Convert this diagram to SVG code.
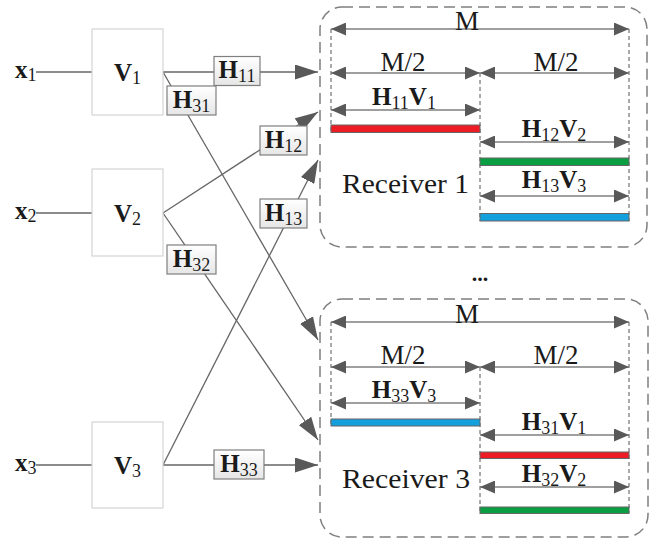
<svg xmlns="http://www.w3.org/2000/svg" width="665" height="542" viewBox="0 0 665 542" font-family="'Liberation Serif', 'Times New Roman', serif">
<style>
text{font-family:'Liberation Serif','Times New Roman',serif;fill:#1a1a1a}
.b{font-weight:bold;font-size:25px}
.s{font-size:18px;font-weight:normal}
.n{font-size:27px}
.rl{font-size:27px}
.vb{fill:#fff;stroke:#d4d4d4;stroke-width:1.2}
.hb{fill:url(#hg);stroke:#7f7f7f;stroke-width:1.2}
.c{stroke:#666;stroke-width:1.3;fill:none}
.ca{stroke:#666;stroke-width:1.3;fill:none;marker-end:url(#ah)}
.rx{fill:none;stroke:#7f7f7f;stroke-width:1.5;stroke-dasharray:11 6}
.dl{stroke:#555;stroke-width:1;stroke-dasharray:4 3}
.dim{stroke:#7f7f7f;stroke-width:1.5;marker-start:url(#dh);marker-end:url(#dh)}
.bar{stroke:#666;stroke-width:1}
</style>
<defs>
<linearGradient id="hg" x1="0" y1="0" x2="0" y2="1"><stop offset="0" stop-color="#ffffff"/><stop offset="1" stop-color="#e6e6e6"/></linearGradient>
<marker id="ah" markerUnits="userSpaceOnUse" markerWidth="23" markerHeight="15" refX="23" refY="7.5" orient="auto"><path d="M0,0 L23,7.5 L0,15 z" fill="#595959"/></marker>
<marker id="dh" markerUnits="userSpaceOnUse" markerWidth="15" markerHeight="13" refX="15" refY="6.5" orient="auto-start-reverse"><path d="M0,0 L15,6.5 L0,13 z" fill="#595959"/></marker>
</defs>

<g id="connectors">
<line class="c" x1="36" y1="72" x2="92" y2="72"/>
<line class="c" x1="36" y1="213" x2="92" y2="213"/>
<line class="c" x1="36" y1="465" x2="92" y2="465"/>
<line class="ca" x1="163" y1="72" x2="318" y2="72"/>
<line class="ca" x1="163" y1="72" x2="318" y2="340"/>
<line class="ca" x1="163" y1="213" x2="318" y2="112"/>
<line class="ca" x1="163" y1="213" x2="318" y2="440"/>
<line class="ca" x1="163" y1="465" x2="318" y2="160"/>
<line class="ca" x1="163" y1="465" x2="318" y2="465"/>
</g>

<g id="x1"><text x="15" y="78"><tspan class="b">x</tspan><tspan class="s" dy="3">1</tspan></text></g>
<g id="x2"><text x="15" y="219"><tspan class="b">x</tspan><tspan class="s" dy="3">2</tspan></text></g>
<g id="x3"><text x="15" y="471"><tspan class="b">x</tspan><tspan class="s" dy="3">3</tspan></text></g>

<g id="V1"><rect class="vb" x="92" y="29" width="71" height="86"/><text x="127.5" y="81" text-anchor="middle"><tspan class="b">V</tspan><tspan class="s" dy="3">1</tspan></text></g>
<g id="V2"><rect class="vb" x="92" y="169" width="71" height="87"/><text x="127.5" y="222" text-anchor="middle"><tspan class="b">V</tspan><tspan class="s" dy="3">2</tspan></text></g>
<g id="V3"><rect class="vb" x="92" y="422" width="71" height="86"/><text x="127.5" y="474" text-anchor="middle"><tspan class="b">V</tspan><tspan class="s" dy="3">3</tspan></text></g>

<g id="H11"><rect class="hb" x="214" y="56.5" width="46" height="29"/><text x="237" y="78" text-anchor="middle"><tspan class="b">H</tspan><tspan class="s" dy="4">11</tspan></text></g>
<g id="H31"><rect class="hb" x="167" y="86" width="49" height="29"/><text x="191.5" y="107.5" text-anchor="middle"><tspan class="b">H</tspan><tspan class="s" dy="4">31</tspan></text></g>
<g id="H12"><rect class="hb" x="260" y="126" width="47" height="29"/><text x="283.5" y="147.5" text-anchor="middle"><tspan class="b">H</tspan><tspan class="s" dy="4">12</tspan></text></g>
<g id="H13"><rect class="hb" x="260" y="199" width="47" height="29"/><text x="283.5" y="220.5" text-anchor="middle"><tspan class="b">H</tspan><tspan class="s" dy="4">13</tspan></text></g>
<g id="H32"><rect class="hb" x="167" y="245" width="49" height="29"/><text x="191.5" y="266.5" text-anchor="middle"><tspan class="b">H</tspan><tspan class="s" dy="4">32</tspan></text></g>
<g id="H33"><rect class="hb" x="214" y="450" width="50" height="29"/><text x="239" y="471.5" text-anchor="middle"><tspan class="b">H</tspan><tspan class="s" dy="4">33</tspan></text></g>

<g id="receiver1">
<rect class="rx" x="320" y="7" width="327" height="240" rx="22"/>
<line class="dl" x1="331" y1="29" x2="331" y2="133"/>
<line class="dl" x1="629" y1="29" x2="629" y2="221"/>
<line class="dl" x1="480" y1="73" x2="480" y2="221"/>
<line class="dim" x1="331" y1="29" x2="629" y2="29"/>
<text class="n" x="467" y="30" text-anchor="middle">M</text>
<line class="dim" x1="331" y1="73" x2="480" y2="73"/>
<line class="dim" x1="480" y1="73" x2="629" y2="73"/>
<text class="n" x="403" y="71" text-anchor="middle">M/2</text>
<text class="n" x="556" y="71" text-anchor="middle">M/2</text>
<line class="dim" x1="331" y1="110" x2="480" y2="110"/>
<text x="404" y="105" text-anchor="middle"><tspan class="b">H</tspan><tspan class="s" dy="4">11</tspan><tspan class="b" dy="-4">V</tspan><tspan class="s" dy="4">1</tspan></text>
<rect class="bar" x="331" y="125" width="149" height="7.5" fill="#ed1c24"/>
<line class="dim" x1="480" y1="142" x2="629" y2="142"/>
<text x="554" y="137" text-anchor="middle"><tspan class="b">H</tspan><tspan class="s" dy="4">12</tspan><tspan class="b" dy="-4">V</tspan><tspan class="s" dy="4">2</tspan></text>
<rect class="bar" x="480" y="158" width="149" height="7.5" fill="#0a9e43"/>
<text class="rl" x="342" y="193" textLength="127" lengthAdjust="spacingAndGlyphs">Receiver 1</text>
<line class="dim" x1="480" y1="196" x2="629" y2="196"/>
<text x="554" y="188" text-anchor="middle"><tspan class="b">H</tspan><tspan class="s" dy="4">13</tspan><tspan class="b" dy="-4">V</tspan><tspan class="s" dy="4">3</tspan></text>
<rect class="bar" x="480" y="213.5" width="149" height="7.5" fill="#14a0dc"/>
</g>

<g id="ellipsis"><text x="480" y="281" text-anchor="middle" style="font-size:22px;font-weight:bold">...</text></g>

<g id="receiver3">
<rect class="rx" x="320" y="299" width="328" height="238" rx="22"/>
<line class="dl" x1="331" y1="322" x2="331" y2="426"/>
<line class="dl" x1="629" y1="322" x2="629" y2="513"/>
<line class="dl" x1="480" y1="367" x2="480" y2="513"/>
<line class="dim" x1="331" y1="322" x2="629" y2="322"/>
<text class="n" x="467" y="323" text-anchor="middle">M</text>
<line class="dim" x1="331" y1="367" x2="480" y2="367"/>
<line class="dim" x1="480" y1="367" x2="629" y2="367"/>
<text class="n" x="403" y="364" text-anchor="middle">M/2</text>
<text class="n" x="556" y="364" text-anchor="middle">M/2</text>
<line class="dim" x1="331" y1="403" x2="480" y2="403"/>
<text x="404" y="398" text-anchor="middle"><tspan class="b">H</tspan><tspan class="s" dy="4">33</tspan><tspan class="b" dy="-4">V</tspan><tspan class="s" dy="4">3</tspan></text>
<rect class="bar" x="331" y="419" width="149" height="7" fill="#14a0dc"/>
<line class="dim" x1="480" y1="435" x2="629" y2="435"/>
<text x="554" y="430" text-anchor="middle"><tspan class="b">H</tspan><tspan class="s" dy="4">31</tspan><tspan class="b" dy="-4">V</tspan><tspan class="s" dy="4">1</tspan></text>
<rect class="bar" x="480" y="452" width="149" height="6.5" fill="#ed1c24"/>
<text class="rl" x="342" y="488" textLength="128" lengthAdjust="spacingAndGlyphs">Receiver 3</text>
<line class="dim" x1="480" y1="487" x2="629" y2="487"/>
<text x="554" y="482" text-anchor="middle"><tspan class="b">H</tspan><tspan class="s" dy="4">32</tspan><tspan class="b" dy="-4">V</tspan><tspan class="s" dy="4">2</tspan></text>
<rect class="bar" x="480" y="507" width="149" height="6.5" fill="#0a9e43"/>
</g>
</svg>
